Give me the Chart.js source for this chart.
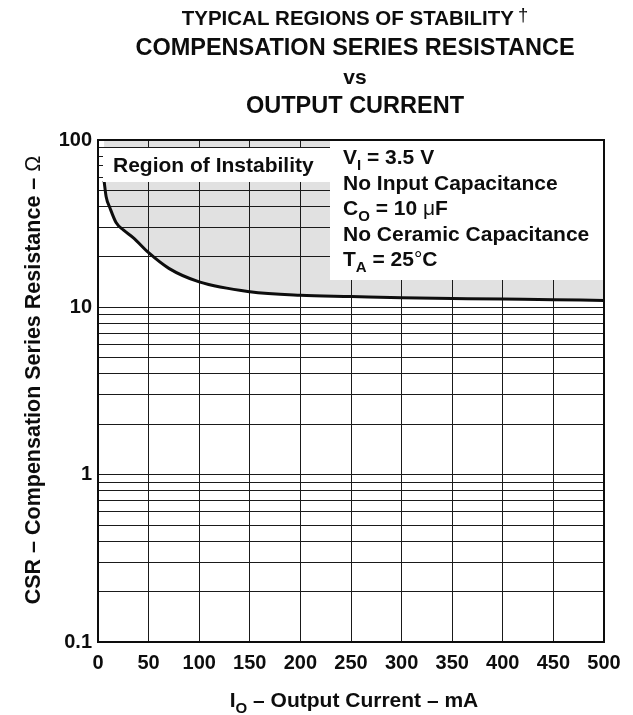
<!DOCTYPE html>
<html>
<head>
<meta charset="utf-8">
<title>CSR vs Output Current</title>
<script src="https://cdn.jsdelivr.net/npm/chart.js@4.4.0/dist/chart.umd.min.js"></script>
<style>
  html, body { margin: 0; padding: 0; background: #fff; }
</style>
</head>
<body>
<canvas id="csrChart" width="633" height="715"></canvas>
<script>
// =======================
// Data
// =======================
const currentMA = [6, 8, 12, 18, 25, 35, 50, 70, 100, 150, 200, 250, 300, 350, 400, 450, 500];
const csrOhm = [57, 46, 39, 32, 29, 26, 21.2, 17.1, 14.2, 12.4, 11.8, 11.6, 11.4, 11.3, 11.2, 11.1, 11.0];

// x ticks every 50 mA
const xTickStep = 50;

// log grid: 1..9 per decade, labels only on decades
const yGridValues = [
  0.1, 0.2, 0.3, 0.4, 0.5, 0.6, 0.7, 0.8, 0.9,
  1, 2, 3, 4, 5, 6, 7, 8, 9,
  10, 20, 30, 40, 50, 60, 70, 80, 90,
  100
];
const yLabels = [0.1, 1, 10, 100];

const FONT = '"Liberation Sans", Arial, Helvetica, sans-serif';
const INK = '#0d0d0d';

// =======================
// Rich text helper (subscripts, mixed weights)
// =======================
function drawRich(ctx, x, y, parts, size, align) {
  const pieces = parts.map(p => {
    const s = p.sub ? Math.round(size * 0.72) : (p.sup ? size * 0.9 : size);
    const w = p.weight || 'bold';
    ctx.font = `${w} ${s}px ${FONT}`;
    let dy = 0;
    if (p.sub) dy = size * 0.3;
    if (p.sup) dy = -size * 0.2;
    return { text: p.text, font: ctx.font, width: ctx.measureText(p.text).width, dy: dy };
  });
  const total = pieces.reduce((a, p) => a + p.width, 0);
  let cx = align === 'center' ? x - total / 2 : x;
  ctx.textAlign = 'left';
  ctx.textBaseline = 'alphabetic';
  pieces.forEach(p => {
    ctx.font = p.font;
    ctx.fillText(p.text, cx, y + p.dy);
    cx += p.width;
  });
}

// =======================
// Titles, labels and boxes
// =======================
const decorations = {
  id: 'decorations',
  afterDraw(chart) {
    const ctx = chart.ctx;
    const area = chart.chartArea;
    ctx.save();
    ctx.fillStyle = INK;

    // chart title
    drawRich(ctx, 355, 25, [{ text: 'TYPICAL REGIONS OF STABILITY\u2009' }, { text: '\u2020', sup: true, weight: 'normal' }], 20.5, 'center');
    drawRich(ctx, 355, 55, [{ text: 'COMPENSATION SERIES RESISTANCE' }], 23.5, 'center');
    drawRich(ctx, 355, 84, [{ text: 'vs' }], 21, 'center');
    drawRich(ctx, 355, 113, [{ text: 'OUTPUT CURRENT' }], 23.5, 'center');

    // x axis title
    drawRich(ctx, 354, 707, [
      { text: 'I' }, { text: 'O', sub: true }, { text: ' \u2013 Output Current \u2013 mA' }
    ], 21, 'center');

    // y axis title
    ctx.save();
    ctx.translate(40, 380);
    ctx.rotate(-Math.PI / 2);
    drawRich(ctx, 0, 0, [
      { text: 'CSR \u2013 Compensation Series Resistance \u2013 ' }, { text: '\u03A9', weight: 'normal' }
    ], 21.5, 'center');
    ctx.restore();

    // "Region of Instability" label
    ctx.fillStyle = '#fff';
    ctx.fillRect(103, 148, 228, 34);
    ctx.fillStyle = INK;
    drawRich(ctx, 113, 172, [{ text: 'Region of Instability' }], 21, 'left');

    // conditions box
    ctx.fillStyle = '#fff';
    ctx.fillRect(330, area.top, area.right - 330, 280 - area.top);
    ctx.fillStyle = INK;
    const tx = 343;
    drawRich(ctx, tx, 164, [{ text: 'V' }, { text: 'I', sub: true }, { text: ' = 3.5 V' }], 21, 'left');
    drawRich(ctx, tx, 189.5, [{ text: 'No Input Capacitance' }], 21, 'left');
    drawRich(ctx, tx, 215, [
      { text: 'C' }, { text: 'O', sub: true }, { text: ' = 10 ' }, { text: '\u03BC', weight: 'normal' }, { text: 'F' }
    ], 21, 'left');
    drawRich(ctx, tx, 240.5, [{ text: 'No Ceramic Capacitance' }], 21, 'left');
    drawRich(ctx, tx, 266, [
      { text: 'T' }, { text: 'A', sub: true }, { text: ' = 25' }, { text: '\u00B0', weight: 'normal' }, { text: 'C' }
    ], 21, 'left');

    // frame
    ctx.strokeStyle = INK;
    ctx.lineWidth = 2;
    ctx.strokeRect(area.left, area.top, area.right - area.left, area.bottom - area.top);
    ctx.restore();
  }
};

// =======================
// Chart
// =======================
const points = currentMA.map((x, i) => ({ x: x, y: csrOhm[i] }));

new Chart(document.getElementById('csrChart'), {
  type: 'line',
  data: {
    datasets: [{
      label: 'CSR boundary',
      data: points,
      borderColor: INK,
      borderWidth: 3,
      pointRadius: 0,
      cubicInterpolationMode: 'monotone',
      fill: 'end',
      backgroundColor: '#e1e1e1'
    }]
  },
  options: {
    responsive: false,
    animation: false,
    layout: { padding: { left: 58, right: 29, top: 140, bottom: 33 } },
    plugins: {
      legend: { display: false },
      tooltip: { enabled: false },
      filler: { drawTime: 'beforeDraw' }
    },
    scales: {
      x: {
        type: 'linear',
        min: 0,
        max: 500,
        afterFit: s => { s.height = 40; },
        grid: { color: '#1a1a1a', lineWidth: 1, drawTicks: false },
        border: { display: false },
        ticks: {
          stepSize: xTickStep,
          padding: 9,
          color: INK,
          font: { family: FONT, size: 20, weight: 'bold' }
        }
      },
      y: {
        type: 'logarithmic',
        min: 0.1,
        max: 100,
        afterFit: s => { s.width = 40; },
        afterBuildTicks: s => { s.ticks = yGridValues.map(v => ({ value: v })); },
        grid: { color: '#1a1a1a', lineWidth: 1, drawTicks: false },
        border: { display: false },
        ticks: {
          autoSkip: false,
          padding: 6,
          color: INK,
          font: { family: FONT, size: 20, weight: 'bold' },
          callback: v => (yLabels.includes(v) ? String(v) : '')
        }
      }
    }
  },
  plugins: [decorations]
});
</script>
</body>
</html>
